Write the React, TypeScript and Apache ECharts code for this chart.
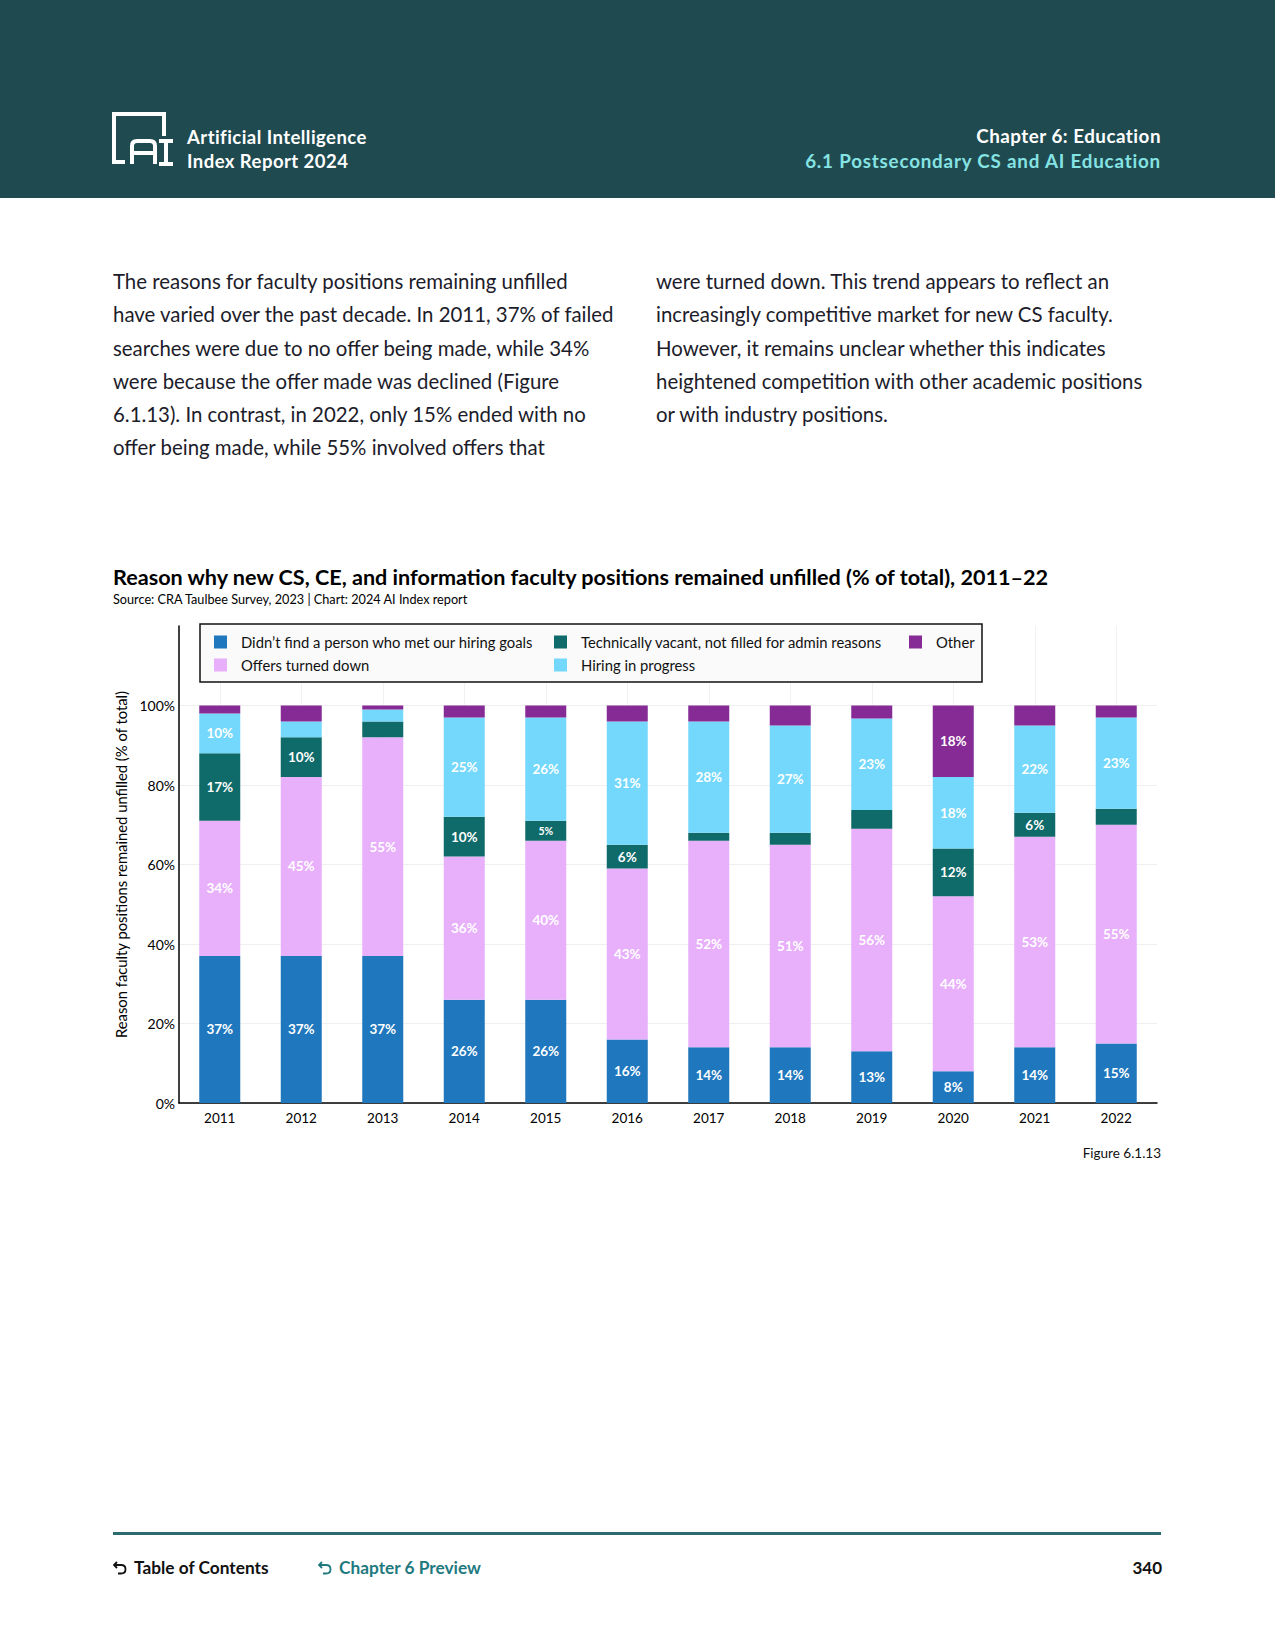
import React, { useEffect, useRef } from 'react';
import * as echarts from 'echarts';

const years = ['2011', '2012', '2013', '2014', '2015', '2016', '2017', '2018', '2019', '2020', '2021', '2022'];
const didntFind = [37, 37, 37, 26, 26, 16, 14, 14, 13, 8, 14, 15];
const offersDown = [34, 45, 55, 36, 40, 43, 52, 51, 56, 44, 53, 55];
const techVacant = [17, 10, 4, 10, 5, 6, 2, 3, 4.7, 12, 6, 4];
const hiring = [10, 4, 3, 25, 26, 31, 28, 27, 23, 18, 22, 23];
const other = [2, 4, 1, 3, 3, 4, 4, 5, 3.3, 18, 5, 3];

const seriesNames = [
  'Didn’t find a person who met our hiring goals',
  'Offers turned down',
  'Technically vacant, not filled for admin reasons',
  'Hiring in progress',
  'Other',
];
const seriesValues = [didntFind, offersDown, techVacant, hiring, other];
const seriesColors = ['#1f77bd', '#e8affb', '#0f6a6a', '#73d8fc', '#862b96'];
const labelThresholds = [5, 5, 5, 5, 10];
const yTickValues = [0, 20, 40, 60, 80, 100];

const FONT = 'Lato, "Noto Sans", sans-serif';

function Chart() {
  const ref = useRef<HTMLDivElement>(null);
  useEffect(() => {
    if (!ref.current) return;
    const chart = echarts.init(ref.current, null, { renderer: 'svg' });
    const series = seriesValues.map((vals, si) => ({
      name: seriesNames[si],
      type: 'bar',
      stack: 'total',
      barWidth: 41,
      itemStyle: { color: seriesColors[si] },
      label: {
        show: true,
        position: 'inside',
        color: '#ffffff',
        fontFamily: FONT,
        fontWeight: 'bold',
        fontSize: 13.5,
        formatter: (p: any) => Math.round(p.value) + '%',
      },
      data: vals.map((v) => ({
        value: v,
        label: { show: v >= labelThresholds[si], fontSize: v < 5.5 ? 10.5 : 13.5 },
      })),
    }));
    const legendBase = {
      orient: 'vertical',
      top: 79.5,
      padding: 0,
      itemWidth: 13,
      itemHeight: 13,
      itemGap: 8,
      icon: 'rect',
      textStyle: { fontFamily: FONT, fontSize: 14.8, color: '#111', padding: [0, 0, 0, 9] },
    };
    chart.setOption({
      animation: false,
      textStyle: { fontFamily: FONT },
      title: [
        {
          text: 'Reason why new CS, CE, and information faculty positions remained unfilled (% of total), 2011–22',
          left: 113,
          top: 11,
          padding: 0,
          textStyle: { fontFamily: FONT, fontWeight: 'bold', fontSize: 21.6, color: '#000' },
        },
        {
          text: 'Source: CRA Taulbee Survey, 2023 | Chart: 2024 AI Index report',
          left: 113,
          top: 37,
          padding: 0,
          textStyle: { fontFamily: FONT, fontWeight: 'normal', fontSize: 12.7, color: '#000' },
        },
      ],
      legend: [
        { ...legendBase, data: [seriesNames[0], seriesNames[1]], left: 214 },
        { ...legendBase, data: [seriesNames[2], seriesNames[3]], left: 554 },
        { ...legendBase, data: [seriesNames[4]], left: 909 },
      ],
      graphic: [
        {
          type: 'rect',
          z: 3,
          shape: { x: 200, y: 69, width: 782, height: 58 },
          style: { fill: '#fafafa', stroke: '#111', lineWidth: 1.5 },
        },
        {
          type: 'text',
          z: 5,
          style: {
            text: 'Figure 6.1.13',
            x: 1161,
            y: 598,
            align: 'right',
            verticalAlign: 'middle',
            fontFamily: FONT,
            fontSize: 13.5,
            fill: '#111',
          },
        },
      ],
      grid: { left: 179, right: 118, top: 71, bottom: 72, containLabel: false },
      xAxis: {
        type: 'category',
        data: years,
        axisLine: { show: true, lineStyle: { color: '#000', width: 1.5 } },
        axisTick: { show: false },
        splitLine: { show: true, alignWithLabel: true, lineStyle: { color: '#f1f1f1', width: 1 } },
        axisLabel: { color: '#000', fontSize: 13.5, margin: 8, fontFamily: FONT },
      },
      yAxis: {
        type: 'value',
        min: 0,
        max: 120,
        interval: 20,
        name: 'Reason faculty positions remained unfilled (% of total)',
        nameLocation: 'middle',
        nameGap: 44,
        nameTextStyle: { color: '#000', fontSize: 14.8, fontFamily: FONT },
        axisLine: { show: true, lineStyle: { color: '#000', width: 1.5 } },
        axisTick: { show: false },
        axisLabel: {
          color: '#000',
          fontSize: 14,
          margin: 4,
          fontFamily: FONT,
          formatter: (v: number) => (yTickValues.indexOf(v) >= 0 ? v + '%' : ''),
        },
        splitLine: {
          show: true,
          lineStyle: {
            color: ['#efefef', '#efefef', '#efefef', '#efefef', '#efefef', '#efefef', 'rgba(0,0,0,0)'],
          },
        },
      },
      series,
    });
    return () => chart.dispose();
  }, []);
  return (
    <div
      ref={ref}
      style={{ position: 'absolute', left: 0, top: 555, width: 1275, height: 620 }}
    />
  );
}

function Logo() {
  return (
    <svg
      width={62}
      height={54}
      viewBox="0 0 62 54"
      style={{ position: 'absolute', left: 112, top: 112 }}
    >
      <path d="M2 52 V2 H52 V24" fill="none" stroke="#fff" strokeWidth={4} />
      <path d="M0 50 H13" fill="none" stroke="#fff" strokeWidth={4} />
      <path d="M20 52 V34 Q20 29 25 29 H38 Q43 29 43 34 V52 M20 41 H43" fill="none" stroke="#fff" strokeWidth={4} />
      <path d="M47 29 H61 M54 29 V52 M47 52 H61" fill="none" stroke="#fff" strokeWidth={4} />
    </svg>
  );
}

function BackArrow({ color, left }: { color: string; left: number }) {
  return (
    <svg
      width={14}
      height={14}
      viewBox="0 0 14 14"
      style={{ position: 'absolute', left, top: 1561 }}
    >
      <path d="M4 1 L1 4 L4 7" fill="none" stroke={color} strokeWidth={1.8} />
      <path d="M1.5 4 H8 Q12.5 4 12.5 8.2 Q12.5 12.5 8 12.5 H5" fill="none" stroke={color} strokeWidth={1.8} />
    </svg>
  );
}

export default function App() {
  const bodyStyle: React.CSSProperties = {
    position: 'absolute',
    top: 265,
    fontSize: 20.4,
    lineHeight: '33.3px',
    color: '#1c1c2a',
    whiteSpace: 'nowrap',
  };
  return (
    <div
      style={{
        position: 'absolute',
        left: 0,
        top: 0,
        width: 1275,
        height: 1650,
        background: '#ffffff',
        fontFamily: FONT,
        overflow: 'hidden',
      }}
    >
      <div style={{ position: 'absolute', left: 0, top: 0, width: 1275, height: 198, background: '#1f4a50' }} />
      <Logo />
      <div style={{ position: 'absolute', left: 187, top: 125, color: '#fff', fontWeight: 700, fontSize: 18.5, letterSpacing: '0.45px', lineHeight: '24px' }}>
        Artificial Intelligence
        <br />
        Index Report 2024
      </div>
      <div style={{ position: 'absolute', right: 1275 - 1161, top: 123, textAlign: 'right', fontWeight: 700, fontSize: 18.8, lineHeight: '25px' }}>
        <div style={{ color: '#ffffff', letterSpacing: '0.5px' }}>Chapter 6: Education</div>
        <div style={{ color: '#86e3e3', letterSpacing: '0.8px' }}>6.1 Postsecondary CS and AI Education</div>
      </div>

      <div style={{ ...bodyStyle, left: 113 }}>
        The reasons for faculty positions remaining unfilled
        <br />
        have varied over the past decade. In 2011, 37% of failed
        <br />
        searches were due to no offer being made, while 34%
        <br />
        were because the offer made was declined (Figure
        <br />
        6.1.13). In contrast, in 2022, only 15% ended with no
        <br />
        offer being made, while 55% involved offers that
      </div>
      <div style={{ ...bodyStyle, left: 656 }}>
        were turned down. This trend appears to reflect an
        <br />
        increasingly competitive market for new CS faculty.
        <br />
        However, it remains unclear whether this indicates
        <br />
        heightened competition with other academic positions
        <br />
        or with industry positions.
      </div>

      <Chart />

      <div style={{ position: 'absolute', left: 113, top: 1532, width: 1048, height: 3, background: '#2d6b71' }} />
      <BackArrow color="#111" left={113} />
      <div style={{ position: 'absolute', left: 134, top: 1557, fontWeight: 700, fontSize: 17.3, lineHeight: '22px', color: '#111' }}>
        Table of Contents
      </div>
      <BackArrow color="#1f7a80" left={318} />
      <div style={{ position: 'absolute', left: 339, top: 1557, fontWeight: 700, fontSize: 17.3, lineHeight: '22px', color: '#1f7a80' }}>
        Chapter 6 Preview
      </div>
      <div style={{ position: 'absolute', right: 1275 - 1162, top: 1557, fontWeight: 700, fontSize: 17, lineHeight: '22px', color: '#111' }}>
        340
      </div>
    </div>
  );
}
